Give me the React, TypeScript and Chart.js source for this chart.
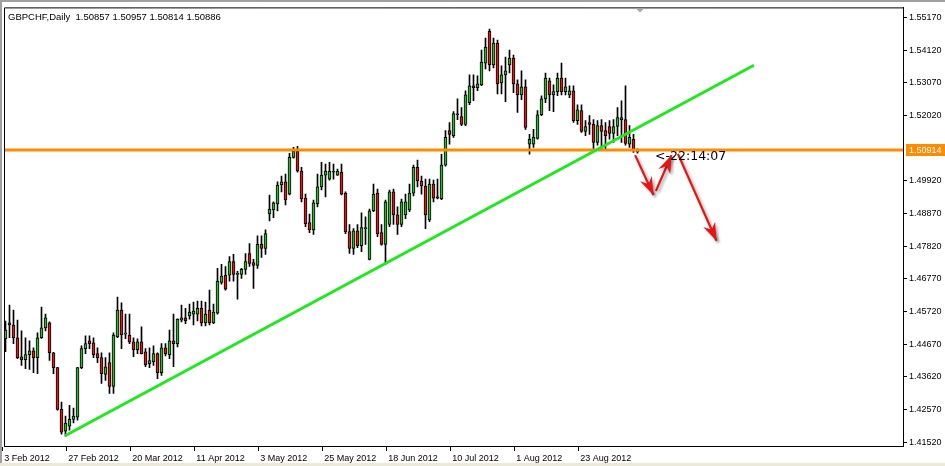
import React, { useEffect, useRef } from 'react';
import { Chart, registerables } from 'chart.js';

Chart.register(...registerables);

const symbolTitle = 'GBPCHF,Daily  1.50857 1.50957 1.50814 1.50886';

const xTickLabels = ['3 Feb 2012', '27 Feb 2012', '20 Mar 2012', '11 Apr 2012', '3 May 2012', '25 May 2012', '18 Jun 2012', '10 Jul 2012', '1 Aug 2012', '23 Aug 2012'];
const xTickBars = [0, 16, 32, 48, 64, 80, 96, 112, 128, 144];

const yTickValues = [1.5517, 1.5412, 1.5307, 1.5202, 1.4992, 1.4887, 1.4782, 1.4677, 1.4572, 1.4467, 1.4362, 1.4257, 1.4152];

const openP = [
  1.4485, 1.4529, 1.4529, 1.4488, 1.4427, 1.4418, 1.4434, 1.4446, 1.4424, 1.4488,
  1.4520, 1.4536, 1.4440, 1.4392, 1.4258, 1.4188, 1.4204, 1.4226, 1.4233, 1.4392,
  1.4453, 1.4478, 1.4472, 1.4437, 1.4424, 1.4370, 1.4408, 1.4332, 1.4491, 1.4577,
  1.4500, 1.4497, 1.4475, 1.4450, 1.4475, 1.4443, 1.4405, 1.4411, 1.4437, 1.4376,
  1.4456, 1.4434, 1.4478, 1.4469, 1.4545, 1.4552, 1.4558, 1.4564, 1.4564, 1.4583,
  1.4536, 1.4577, 1.4536, 1.4567, 1.4666, 1.4689, 1.4689, 1.4733, 1.4692, 1.4692,
  1.4708, 1.4759, 1.4730, 1.4721, 1.4788, 1.4775, 1.4886, 1.4899, 1.4918, 1.4979,
  1.4989, 1.4950, 1.5068, 1.5087, 1.5024, 1.4937, 1.4858, 1.4835, 1.4918, 1.4973,
  1.5011, 1.4998, 1.5020, 1.5011, 1.5020, 1.4953, 1.4829, 1.4775, 1.4832, 1.4784,
  1.4839, 1.4740, 1.4896, 1.4953, 1.4826, 1.4788, 1.4852, 1.4957, 1.4883, 1.4852,
  1.4883, 1.4899, 1.4953, 1.5036, 1.4992, 1.4976, 1.4867, 1.4982, 1.4941, 1.4934,
  1.5043, 1.5154, 1.5138, 1.5206, 1.5199, 1.5174, 1.5244, 1.5298, 1.5292, 1.5301,
  1.5371, 1.5473, 1.5365, 1.5435, 1.5307, 1.5333, 1.5365, 1.5387, 1.5304, 1.5269,
  1.5295, 1.5110, 1.5110, 1.5129, 1.5205, 1.5256, 1.5314, 1.5269, 1.5279, 1.5323,
  1.5279, 1.5269, 1.5282, 1.5186, 1.5218, 1.5151, 1.5180, 1.5174, 1.5116, 1.5170,
  1.5154, 1.5167, 1.5145, 1.5167, 1.5189, 1.5189, 1.5110, 1.5126, 1.50857,
];

const highP = [
  1.4542, 1.4593, 1.4577, 1.4545, 1.4510, 1.4488, 1.4478, 1.4456, 1.4504, 1.4587,
  1.4564, 1.4539, 1.4441, 1.4393, 1.4281, 1.4236, 1.4271, 1.4262, 1.4393, 1.4462,
  1.4494, 1.4494, 1.4488, 1.4456, 1.4440, 1.4424, 1.4440, 1.4504, 1.4619, 1.4600,
  1.4564, 1.4564, 1.4488, 1.4485, 1.4523, 1.4453, 1.4456, 1.4462, 1.4440, 1.4469,
  1.4469, 1.4513, 1.4564, 1.4549, 1.4593, 1.4583, 1.4596, 1.4603, 1.4606, 1.4606,
  1.4603, 1.4641, 1.4596, 1.4711, 1.4724, 1.4717, 1.4749, 1.4756, 1.4702, 1.4711,
  1.4759, 1.4791, 1.4740, 1.4816, 1.4816, 1.4835, 1.4947, 1.4925, 1.4989, 1.5008,
  1.5014, 1.5081, 1.5100, 1.5103, 1.5036, 1.4950, 1.4886, 1.4931, 1.5014, 1.5052,
  1.5046, 1.5052, 1.5046, 1.5030, 1.5046, 1.4957, 1.4852, 1.4839, 1.4852, 1.4890,
  1.4877, 1.4902, 1.4982, 1.4966, 1.4852, 1.4931, 1.4963, 1.4966, 1.4909, 1.4934,
  1.4950, 1.4982, 1.5043, 1.5059, 1.5008, 1.4998, 1.4998, 1.4995, 1.4998, 1.5078,
  1.5154, 1.5180, 1.5215, 1.5256, 1.5228, 1.5282, 1.5333, 1.5333, 1.5330, 1.5413,
  1.5451, 1.5480, 1.5451, 1.5445, 1.5362, 1.5390, 1.5413, 1.5397, 1.5317, 1.5346,
  1.5317, 1.5142, 1.5158, 1.5218, 1.5266, 1.5339, 1.5323, 1.5301, 1.5339, 1.5371,
  1.5323, 1.5298, 1.5298, 1.5237, 1.5237, 1.5186, 1.5202, 1.5189, 1.5186, 1.5189,
  1.5180, 1.5186, 1.5189, 1.5228, 1.5250, 1.5298, 1.5170, 1.5142, 1.50957,
];

const lowP = [
  1.4443, 1.4488, 1.4469, 1.4421, 1.4399, 1.4389, 1.4386, 1.4376, 1.4373, 1.4486,
  1.4510, 1.4415, 1.4373, 1.4255, 1.4178, 1.4172, 1.4191, 1.4214, 1.4223, 1.4389,
  1.4437, 1.4453, 1.4424, 1.4408, 1.4341, 1.4351, 1.4309, 1.4309, 1.4488, 1.4453,
  1.4485, 1.4469, 1.4427, 1.4437, 1.4436, 1.4395, 1.4392, 1.4399, 1.4357, 1.4367,
  1.4430, 1.4421, 1.4395, 1.4459, 1.4539, 1.4533, 1.4548, 1.4529, 1.4542, 1.4526,
  1.4526, 1.4529, 1.4533, 1.4564, 1.4660, 1.4641, 1.4670, 1.4670, 1.4612, 1.4679,
  1.4692, 1.4717, 1.4647, 1.4711, 1.4746, 1.4756, 1.4864, 1.4874, 1.4896, 1.4957,
  1.4915, 1.4947, 1.5065, 1.5020, 1.4925, 1.4845, 1.4826, 1.4820, 1.4909, 1.4963,
  1.4941, 1.4995, 1.4998, 1.5010, 1.4947, 1.4823, 1.4759, 1.4756, 1.4778, 1.4765,
  1.4788, 1.4738, 1.4893, 1.4813, 1.4786, 1.4724, 1.4845, 1.4852, 1.4820, 1.4845,
  1.4871, 1.4893, 1.4944, 1.4973, 1.4950, 1.4839, 1.4861, 1.4925, 1.4934, 1.4932,
  1.5040, 1.5110, 1.5132, 1.5189, 1.5170, 1.5170, 1.5237, 1.5250, 1.5282, 1.5298,
  1.5352, 1.5346, 1.5355, 1.5272, 1.5272, 1.5247, 1.5339, 1.5276, 1.5212, 1.5253,
  1.5158, 1.5078, 1.5100, 1.5126, 1.5202, 1.5244, 1.5218, 1.5215, 1.5266, 1.5269,
  1.5269, 1.5260, 1.5180, 1.5174, 1.5148, 1.5138, 1.5142, 1.5094, 1.5107, 1.5094,
  1.5094, 1.5126, 1.5116, 1.5138, 1.5116, 1.5107, 1.5100, 1.5084, 1.50814,
];

const closeP = [
  1.4513, 1.4536, 1.4488, 1.4424, 1.4418, 1.4434, 1.4446, 1.4424, 1.4488, 1.4520,
  1.4552, 1.4440, 1.4392, 1.4258, 1.4185, 1.4214, 1.4226, 1.4236, 1.4392, 1.4453,
  1.4469, 1.4469, 1.4434, 1.4424, 1.4373, 1.4395, 1.4332, 1.4497, 1.4577, 1.4497,
  1.4501, 1.4475, 1.4450, 1.4475, 1.4437, 1.4402, 1.4415, 1.4437, 1.4376, 1.4456,
  1.4437, 1.4478, 1.4469, 1.4548, 1.4552, 1.4542, 1.4571, 1.4574, 1.4583, 1.4536,
  1.4564, 1.4536, 1.4571, 1.4670, 1.4686, 1.4644, 1.4733, 1.4692, 1.4693, 1.4708,
  1.4733, 1.4727, 1.4721, 1.4788, 1.4775, 1.4823, 1.4902, 1.4922, 1.4979, 1.4989,
  1.4931, 1.5068, 1.5087, 1.5024, 1.4934, 1.4855, 1.4835, 1.4922, 1.4973, 1.5011,
  1.5024, 1.5024, 1.5021, 1.5024, 1.4950, 1.4829, 1.4775, 1.4832, 1.4784, 1.4842,
  1.4840, 1.4896, 1.4950, 1.4823, 1.4788, 1.4925, 1.4957, 1.4883, 1.4852, 1.4925,
  1.4925, 1.4953, 1.5036, 1.4992, 1.4976, 1.4883, 1.4982, 1.4937, 1.4937, 1.5043,
  1.5132, 1.5142, 1.5209, 1.5205, 1.5174, 1.5269, 1.5298, 1.5292, 1.5304, 1.5374,
  1.5422, 1.5365, 1.5435, 1.5304, 1.5333, 1.5346, 1.5387, 1.5304, 1.5269, 1.5295,
  1.5164, 1.5126, 1.5132, 1.5205, 1.5256, 1.5323, 1.5269, 1.5279, 1.5323, 1.5279,
  1.5295, 1.5282, 1.5186, 1.5221, 1.5151, 1.5167, 1.5174, 1.5116, 1.5170, 1.5151,
  1.5138, 1.5145, 1.5167, 1.5196, 1.5196, 1.5113, 1.5132, 1.5094, 1.50886,
];

const hLinePrice = 1.50914;
const hLineLabel = '1.50914';

const trendX = [14.875, 187.1];
const trendY = [1.4173, 1.5364];

const arrowStartX = [157.4, 162.6, 168.1];
const arrowStartY = [1.5075, 1.4960, 1.5079];
const arrowEndX = [162.0, 166.5, 177.75];
const arrowEndY = [1.4947, 1.5075, 1.4800];

const timerText = '<-22:14:07';
const timerX = 162.4;
const timerY = 1.50714;

const X_MIN = -0.375;
const X_MAX = 224.375;
const Y_MIN = 1.41402;
const Y_MAX = 1.55499;

const BULL = '#32b432';
const BEAR = '#d81c1c';
const ORANGE = '#ff8c00';
const TREND = '#1fe81f';
const ARROW = '#e81414';
const AXIS_FONT = { family: '"Liberation Sans", Arial, sans-serif', size: 9 };

const overlayPlugin = {
  id: 'mt4Overlay',
  beforeDatasetDraw(chart: any, args: any) {
    const ds = chart.data.datasets[args.index];
    if (ds.isArrow) {
      const ctx = chart.ctx;
      ctx.save();
      ctx.shadowColor = 'rgba(0,0,0,0.35)';
      ctx.shadowBlur = 3;
      ctx.shadowOffsetX = 2;
      ctx.shadowOffsetY = 2;
    }
  },
  afterDatasetDraw(chart: any, args: any) {
    const ds = chart.data.datasets[args.index];
    if (!ds.isArrow) return;
    const ctx = chart.ctx;
    const pts = args.meta.data;
    const a = pts[0];
    const b = pts[1];
    const dx = b.x - a.x;
    const dy = b.y - a.y;
    const len = Math.hypot(dx, dy) || 1;
    const ux = dx / len;
    const uy = dy / len;
    const nx = -uy;
    const ny = ux;
    const L = 18;
    const W = 6.5;
    const N = 12;
    ctx.beginPath();
    ctx.moveTo(b.x, b.y);
    ctx.lineTo(b.x - ux * L + nx * W, b.y - uy * L + ny * W);
    ctx.lineTo(b.x - ux * N, b.y - uy * N);
    ctx.lineTo(b.x - ux * L - nx * W, b.y - uy * L - ny * W);
    ctx.closePath();
    ctx.fillStyle = ds.borderColor;
    ctx.fill();
    ctx.restore();
  },
  afterDraw(chart: any) {
    const ctx = chart.ctx;
    const area = chart.chartArea;
    const xs = chart.scales.x;
    const ys = chart.scales.y;
    ctx.save();
    // frame (left, top)
    ctx.strokeStyle = '#000';
    ctx.lineWidth = 1;
    ctx.beginPath();
    ctx.moveTo(area.left + 0.5, area.bottom + 1);
    ctx.lineTo(area.left + 0.5, area.top + 0.5);
    ctx.lineTo(area.right + 1, area.top + 0.5);
    ctx.stroke();

    // title
    ctx.fillStyle = '#000';
    ctx.font = '9.5px "Liberation Sans", Arial, sans-serif';
    ctx.textBaseline = 'alphabetic';
    ctx.textAlign = 'left';
    ctx.fillText(symbolTitle, area.left + 4, area.top + 12.5);

    // price label box
    const py = Math.round(ys.getPixelForValue(hLinePrice));
    ctx.fillStyle = ORANGE;
    ctx.fillRect(area.right + 3, py - 6, chart.width - area.right - 3, 12);
    ctx.fillStyle = '#fff';
    ctx.font = '9px "Liberation Sans", Arial, sans-serif';
    ctx.textBaseline = 'middle';
    ctx.fillText(hLineLabel, area.right + 6, py + 0.5);

    // countdown text
    ctx.fillStyle = '#000';
    ctx.font = '12.5px "DejaVu Sans", sans-serif';
    ctx.textBaseline = 'middle';
    ctx.fillText(timerText, xs.getPixelForValue(timerX), ys.getPixelForValue(timerY));

    // chart shift marker
    const sx = Math.round(xs.getPixelForValue(openP.length - 1 + 0.6));
    ctx.fillStyle = '#a8a8a8';
    ctx.beginPath();
    ctx.moveTo(sx - 4, area.top + 1);
    ctx.lineTo(sx + 4, area.top + 1);
    ctx.lineTo(sx, area.top + 5);
    ctx.closePath();
    ctx.fill();
    ctx.restore();
  },
};

export default function App() {
  const ref = useRef<HTMLCanvasElement | null>(null);

  useEffect(() => {
    const canvas = ref.current;
    if (!canvas) return;

    const idx = openP.map((_, i) => i);
    const wickData = idx.map((i) => ({ x: i, y: [lowP[i], highP[i]] }));
    const bodyData = idx.map((i) => ({ x: i, y: [Math.min(openP[i], closeP[i]), Math.max(openP[i], closeP[i])] }));
    const bodyColors = idx.map((i) => (closeP[i] >= openP[i] ? BULL : BEAR));

    const arrowSets = arrowStartX.map((_, k) => ({
      type: 'line' as const,
      isArrow: true,
      data: [
        { x: arrowStartX[k], y: arrowStartY[k] },
        { x: arrowEndX[k], y: arrowEndY[k] },
      ],
      borderColor: ARROW,
      borderWidth: 2.2,
      pointRadius: 0,
      fill: false,
      order: 0,
      clip: false as any,
    }));

    const chart = new Chart(canvas, {
      type: 'bar',
      data: {
        datasets: [
          ...arrowSets,
          {
            type: 'line',
            data: [
              { x: trendX[0], y: trendY[0] },
              { x: trendX[1], y: trendY[1] },
            ],
            borderColor: TREND,
            borderWidth: 3,
            pointRadius: 0,
            fill: false,
            order: 1,
          } as any,
          {
            type: 'line',
            data: [
              { x: X_MIN, y: hLinePrice },
              { x: X_MAX, y: hLinePrice },
            ],
            borderColor: ORANGE,
            borderWidth: 3,
            pointRadius: 0,
            fill: false,
            order: 2,
          } as any,
          {
            type: 'bar',
            data: bodyData as any,
            backgroundColor: bodyColors,
            borderColor: '#000',
            borderWidth: 1,
            borderSkipped: false,
            barThickness: 3,
            minBarLength: 1,
            grouped: false,
            order: 3,
          } as any,
          {
            type: 'bar',
            data: wickData as any,
            backgroundColor: '#000',
            borderWidth: 0,
            barThickness: 1,
            grouped: false,
            order: 4,
          } as any,
        ],
      },
      options: {
        animation: false,
        responsive: false,
        maintainAspectRatio: false,
        devicePixelRatio: 1,
        events: [],
        layout: { padding: { left: 4, top: 4, right: 0, bottom: 0 } },
        plugins: { legend: { display: false }, tooltip: { enabled: false }, title: { display: false } },
        scales: {
          x: {
            type: 'linear',
            position: 'bottom',
            min: X_MIN,
            max: X_MAX,
            offset: false,
            grid: { display: true, drawOnChartArea: false, drawTicks: true, tickLength: 5, color: '#000', tickColor: '#000', offset: false },
            border: { display: true, color: '#000', width: 1 },
            ticks: {
              autoSkip: false,
              maxRotation: 0,
              minRotation: 0,
              align: 'start',
              labelOffset: 2,
              padding: 2,
              color: '#000',
              font: AXIS_FONT,
              callback: (_v: any, i: number) => xTickLabels[i],
            },
            afterBuildTicks: (s: any) => {
              s.ticks = xTickBars.map((b) => ({ value: b - 0.8 }));
            },
            afterFit: (s: any) => {
              s.height = 20;
            },
          },
          y: {
            type: 'linear',
            position: 'right',
            min: Y_MIN,
            max: Y_MAX,
            beginAtZero: false,
            grid: { display: true, drawOnChartArea: false, drawTicks: true, tickLength: 4, color: '#000', tickColor: '#000' },
            border: { display: true, color: '#000', width: 1 },
            ticks: {
              autoSkip: false,
              padding: 2,
              color: '#000',
              font: AXIS_FONT,
              callback: (v: any) => Number(v).toFixed(5),
            },
            afterBuildTicks: (s: any) => {
              s.ticks = yTickValues.map((v) => ({ value: v }));
            },
            afterFit: (s: any) => {
              s.width = 42;
            },
          },
        },
      } as any,
      plugins: [overlayPlugin],
    });

    return () => chart.destroy();
  }, []);

  return (
    <div
      style={{
        position: 'fixed',
        left: 0,
        top: 0,
        width: 945,
        height: 466,
        background: '#ffffff',
        overflow: 'hidden',
      }}
    >
      <canvas ref={ref} width={945} height={466} style={{ display: 'block', width: 945, height: 466 }} />
      <div style={{ position: 'absolute', left: 0, top: 0, width: 945, height: 2, background: '#a0a0a0' }} />
      <div style={{ position: 'absolute', left: 0, top: 0, width: 2, height: 466, background: '#a0a0a0' }} />
      <div style={{ position: 'absolute', left: 0, top: 463, width: 945, height: 3, background: '#ece9d8' }} />
    </div>
  );
}
